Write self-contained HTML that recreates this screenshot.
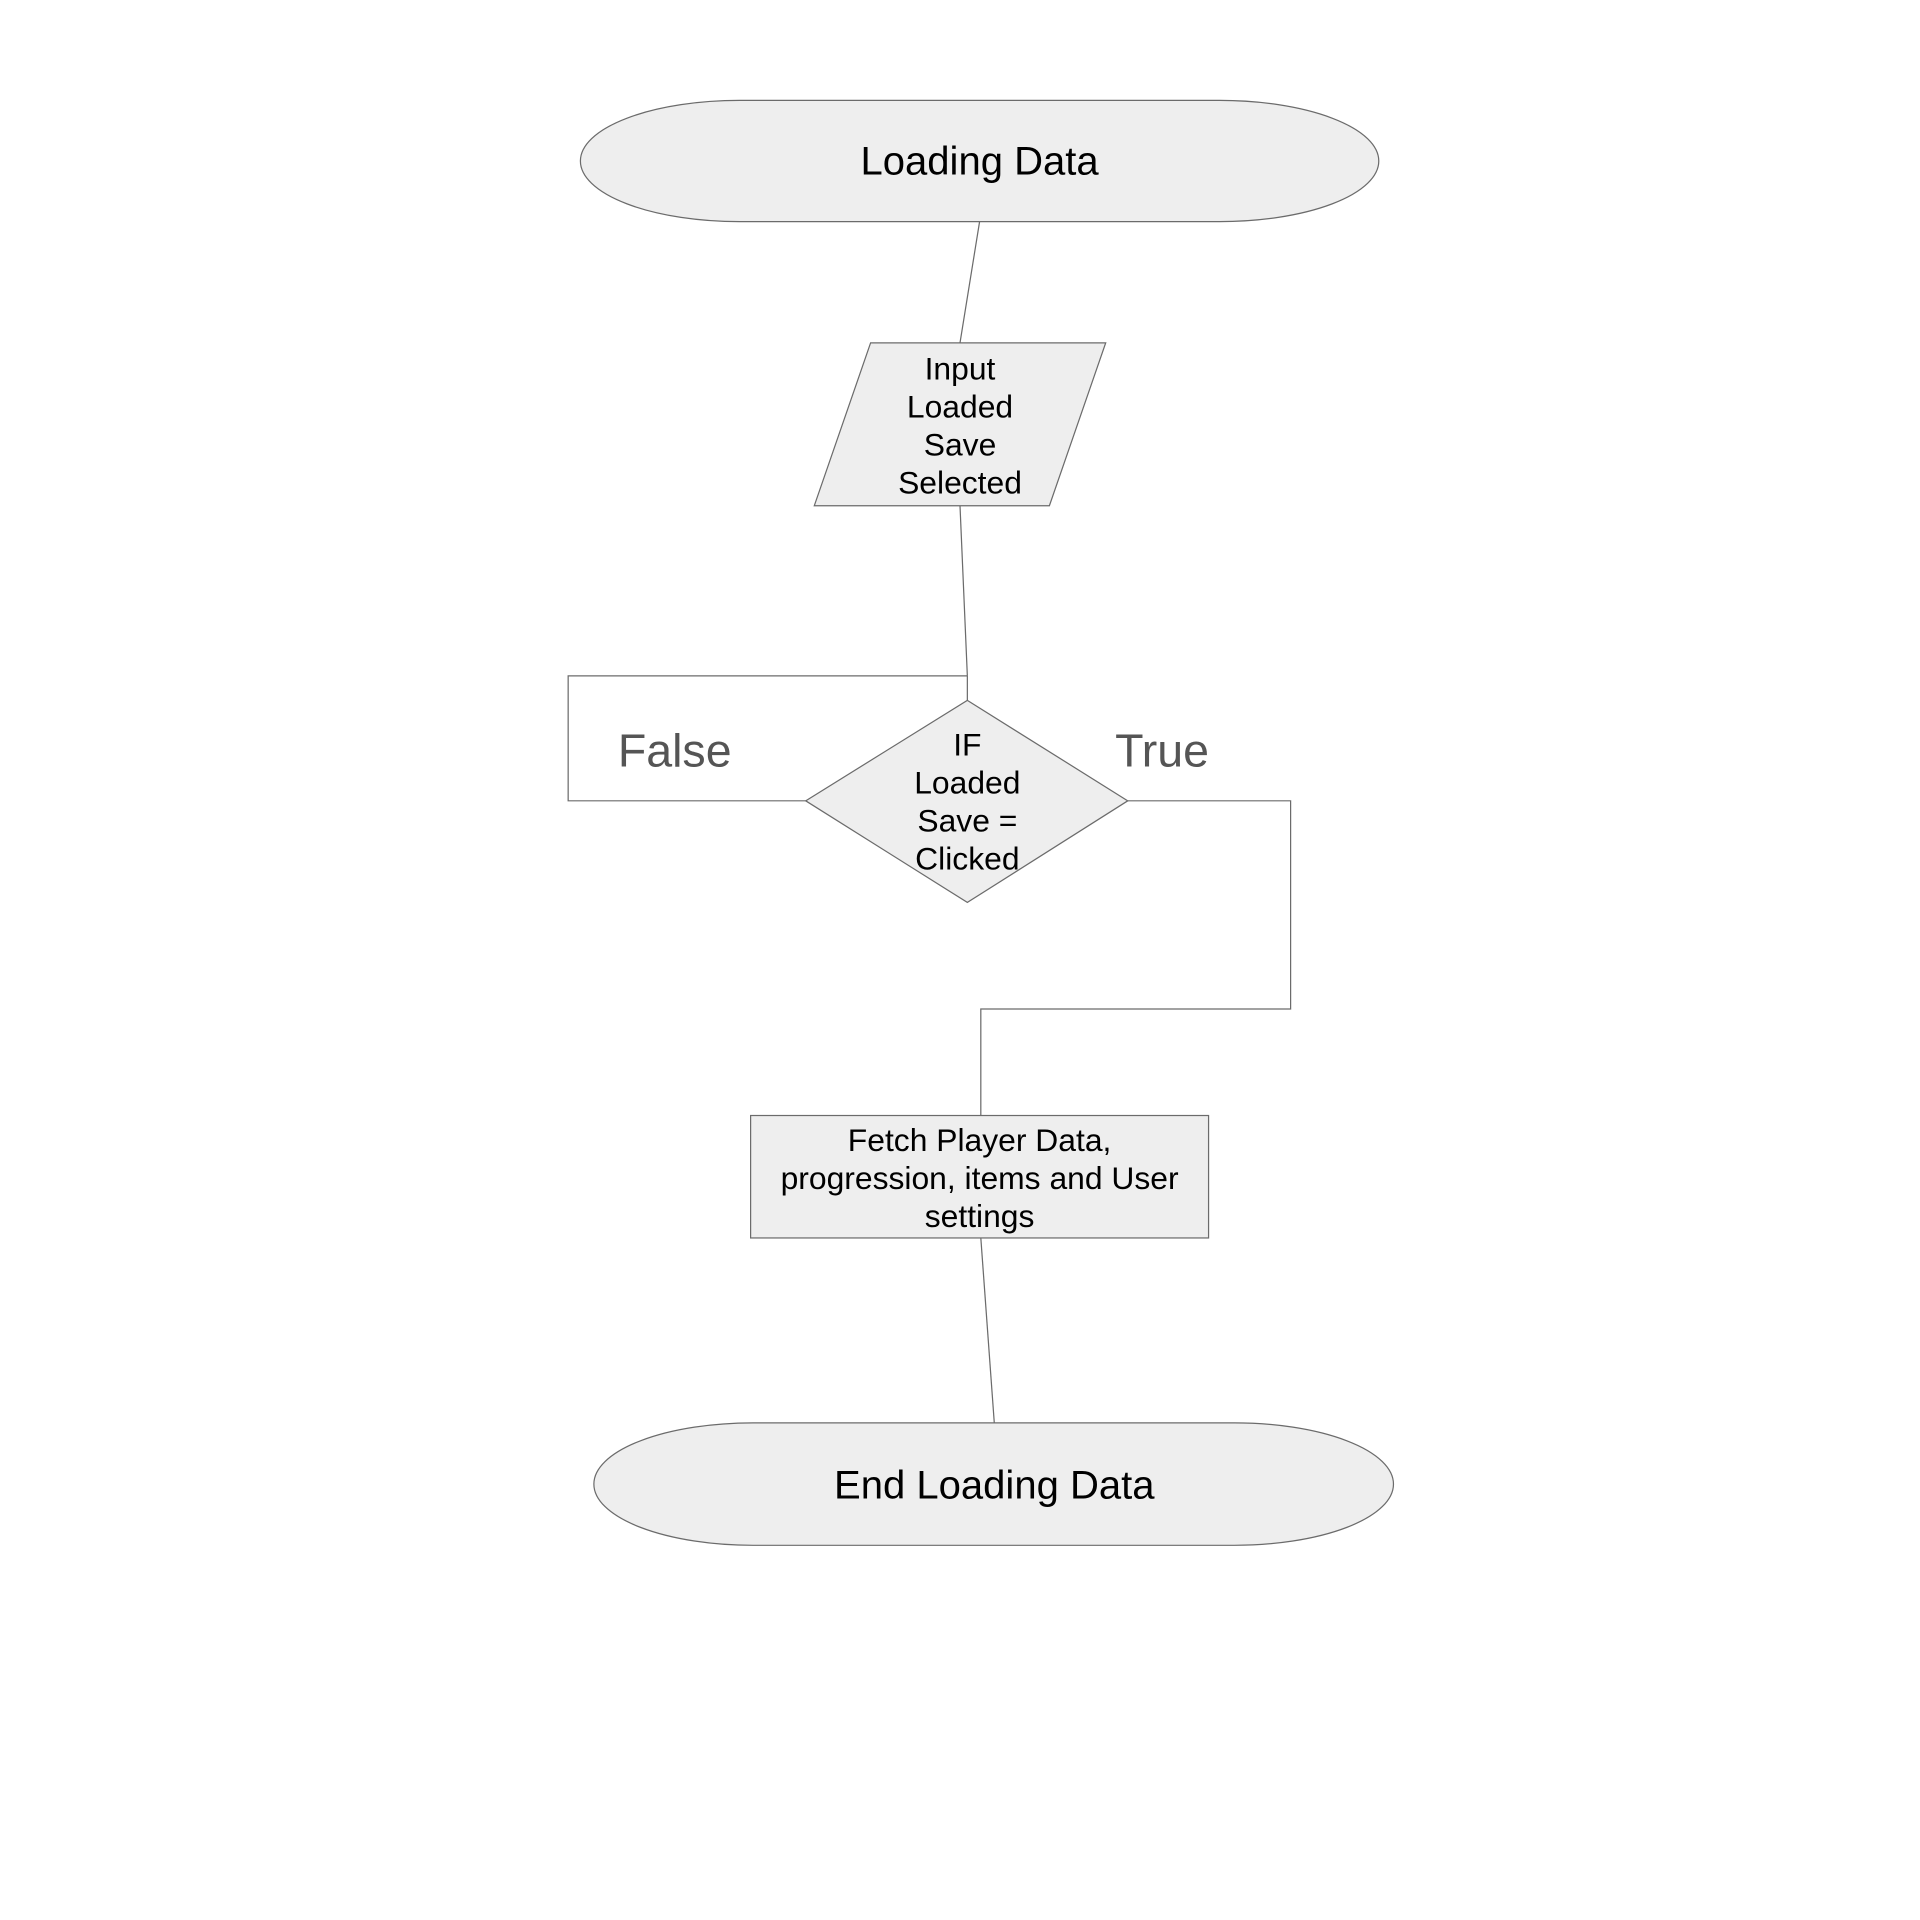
<!DOCTYPE html>
<html><head><meta charset="utf-8"><style>html,body{margin:0;padding:0;background:#fff}svg{display:block}</style></head>
<body>
<svg width="1920" height="1920" viewBox="0 0 1568 1568" xmlns="http://www.w3.org/2000/svg" font-family="Liberation Sans, Arial, sans-serif">
<g fill="none" stroke="#6b6b6b" stroke-width="1">
<line x1="800" y1="181" x2="784" y2="280"/>
<line x1="784" y1="413" x2="790" y2="552"/>
<polyline points="790,552 790,572"/>
<polyline points="790,552 464,552 464,654 658,654"/>
<polyline points="921,654 1054,654 1054,824 801,824 801,911"/>
<line x1="801" y1="1011" x2="812" y2="1162"/>
</g>
<g fill="#eeeeee" stroke="#6b6b6b" stroke-width="1">
<rect x="474" y="82" width="652" height="99" rx="130" ry="49.5"/>
<polygon points="711,280 903,280 857,413 665,413"/>
<polygon points="790,572 921,654 790,737 658,654"/>
<rect x="613" y="911" width="374" height="100"/>
<rect x="485" y="1162" width="653" height="100" rx="130" ry="50"/>
</g>
<g fill="#000" text-anchor="middle" dominant-baseline="central">
<text x="800" y="132" font-size="32.7">Loading Data</text>
<g font-size="26">
<text x="784" y="301">Input</text>
<text x="784" y="332">Loaded</text>
<text x="784" y="363">Save</text>
<text x="784" y="394">Selected</text>
<text x="790" y="608">IF</text>
<text x="790" y="639">Loaded</text>
<text x="790" y="670">Save =</text>
<text x="790" y="701">Clicked</text>
<text x="800" y="931">Fetch Player Data,</text>
<text x="800" y="962">progression, items and User</text>
<text x="800" y="993">settings</text>
</g>
<text x="812" y="1213" font-size="32.7">End Loading Data</text>
<text x="551" y="613" font-size="38" fill="#555">False</text>
<text x="949" y="613" font-size="38" fill="#555">True</text>
</g>
</svg>
</body></html>
